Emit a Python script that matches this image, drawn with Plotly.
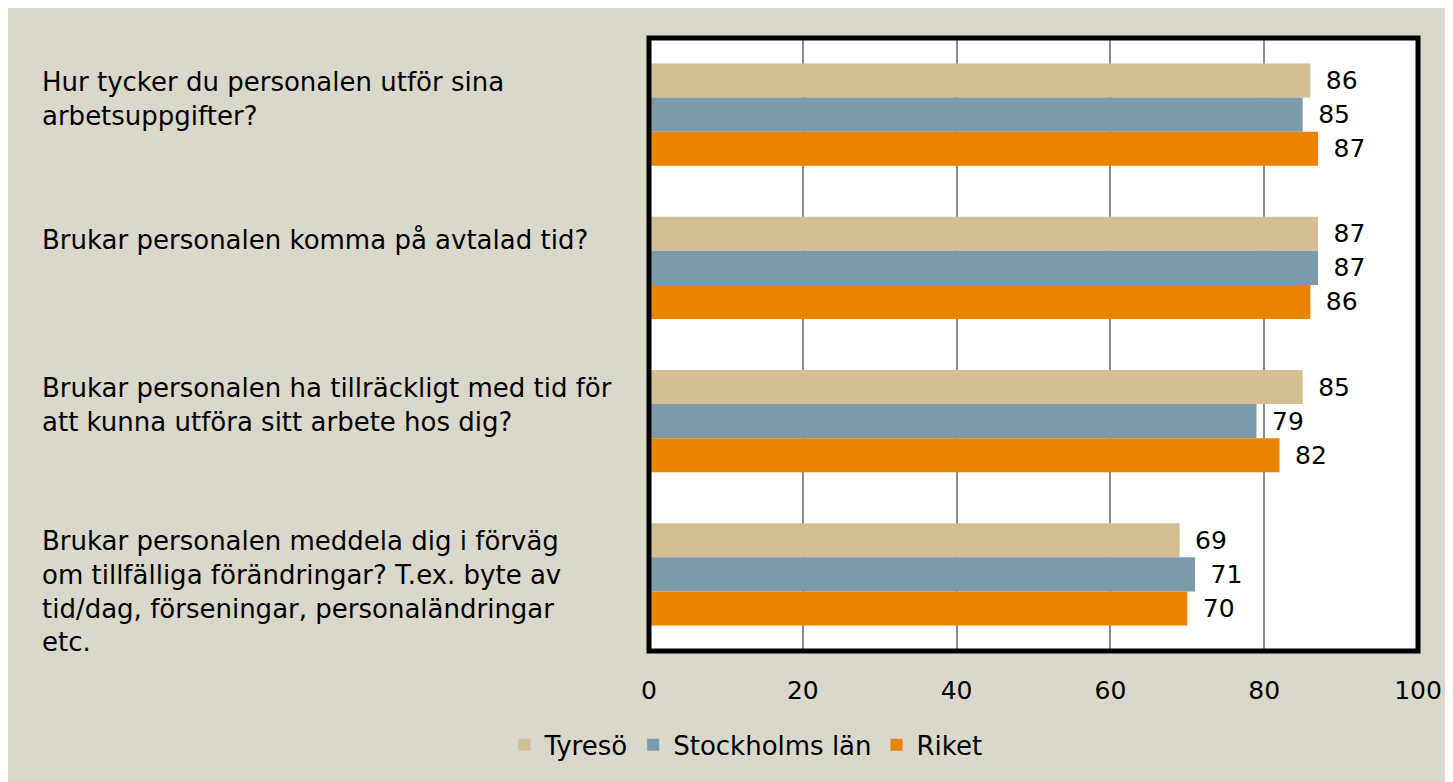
import plotly.graph_objects as go

categories = [
    "Hur tycker du personalen utför sina<br>arbetsuppgifter?",
    "Brukar personalen komma på avtalad tid?",
    "Brukar personalen ha tillräckligt med tid för<br>att kunna utföra sitt arbete hos dig?",
    "Brukar personalen meddela dig i förväg<br>om tillfälliga förändringar? T.ex. byte av<br>tid/dag, förseningar, personaländringar<br>etc.",
]
cat_ids = ["Q1", "Q2", "Q3", "Q4"]
series_names = ["Tyresö", "Stockholms län", "Riket"]
tyreso = [86, 87, 85, 69]
stockholm = [85, 87, 79, 71]
riket = [87, 86, 82, 70]
colors = ["#D4BF95", "#7D9AAA", "#E98300"]
x_ticks = [0, 20, 40, 60, 80, 100]

FONT = "DejaVu Sans"
fig = go.Figure()
for name, vals, col in zip(series_names, [tyreso, stockholm, riket], colors):
    fig.add_trace(go.Bar(
        y=cat_ids, x=vals, name=name, orientation="h",
        marker=dict(color=col, line=dict(width=0)),
        text=["\u2002" + str(v) for v in vals], textposition="outside",
        textfont=dict(family=FONT, size=25, color="black"),
        cliponaxis=False,
    ))

annotations = []
yshifts = [50, 45, 50, 50]
for cid, lab, ys in zip(cat_ids, categories, yshifts):
    annotations.append(dict(
        x=-609 / 769, xref="paper", y=cid, yref="y",
        text=lab, showarrow=False, xanchor="left", yanchor="top", align="left",
        yshift=ys, font=dict(family=FONT, size=26, color="black"),
    ))

fig.update_layout(
    width=1445, height=774,
    margin=dict(l=641, r=35, t=30, b=131),
    paper_bgcolor="#DAD7CB", plot_bgcolor="white",
    barmode="group", bargap=0.333, bargroupgap=0,
    font=dict(family=FONT, size=25, color="black"),
    showlegend=True,
    legend=dict(orientation="h", x=0.126, xanchor="center", y=-0.153, yanchor="middle",
                font=dict(family=FONT, size=26, color="black"), bgcolor="rgba(0,0,0,0)",
                traceorder="normal"),
    xaxis=dict(range=[0, 100], tickvals=x_ticks, showgrid=True, gridcolor="#8C8C8C",
               gridwidth=1.5, zeroline=False, ticks="", ticklabelstandoff=22,
               tickfont=dict(family=FONT, size=25, color="black")),
    yaxis=dict(autorange="reversed", showticklabels=False, showgrid=False, ticks=""),
    annotations=annotations,
    shapes=[dict(type="rect", xref="paper", yref="paper", x0=0, x1=1, y0=0, y1=1,
                 line=dict(color="black", width=5), layer="above")],
)
fig.write_html("out.html")
